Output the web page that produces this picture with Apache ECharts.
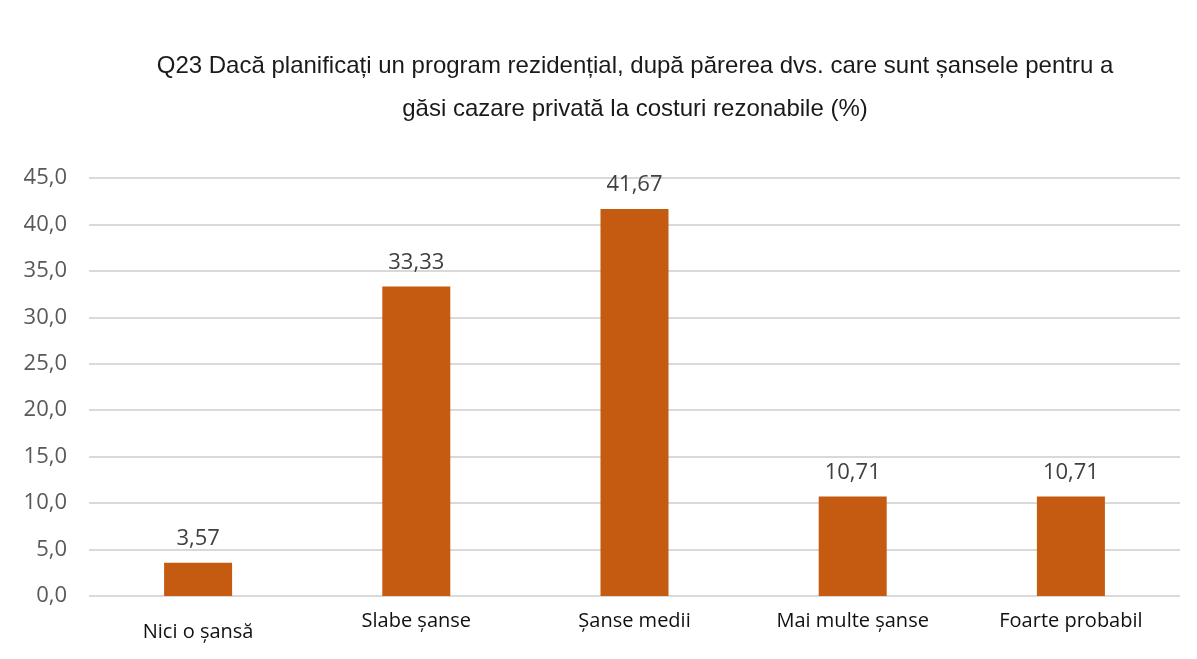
<!DOCTYPE html>
<html lang="ro">
<head>
    <meta charset="utf-8"/>
    <title>Q23</title>
    <style>
        html, body { margin: 0; padding: 0; background: #fff; }
        #chart { width: 1197px; height: 659px; }
    </style>
</head>
<body>
<div id="chart"></div>
<script src="https://cdn.jsdelivr.net/npm/echarts@6/dist/echarts.min.js"></script>
<script type="text/javascript">
    var categories = ['Nici o șansă', 'Slabe șanse', 'Șanse medii', 'Mai multe șanse', 'Foarte probabil'];
    var values = [3.57, 33.33, 41.67, 10.71, 10.71];
    var yTicks = [0, 5, 10, 15, 20, 25, 30, 35, 40, 45];

    var fmt = function (v, d) { return v.toFixed(d).replace('.', ','); };

    var myChart = echarts.init(document.getElementById('chart'));

    var option = {
        backgroundColor: '#ffffff',
        animation: false,
        title: {
            text: 'Q23 Dacă planificați un program rezidențial, după părerea dvs. care sunt șansele pentru a\ngăsi cazare privată la costuri rezonabile (%)',
            left: 630,
            textAlign: 'center',
            top: 40,
            textStyle: {
                fontFamily: 'Liberation Sans, Arial, sans-serif',
                fontSize: 24,
                fontWeight: 'normal',
                color: '#1a1a1a',
                lineHeight: 43
            }
        },
        grid: { left: 89, right: 17, top: 178, bottom: 63 },
        xAxis: {
            type: 'category',
            data: categories,
            axisLine: { show: false },
            axisTick: { show: false },
            axisLabel: {
                interval: 0,
                hideOverlap: false,
                margin: 15,
                fontFamily: 'Open Sans, Lato, sans-serif',
                fontSize: 20,
                color: '#111111',
                formatter: function (v, i) {
                    return i === 0 ? '{low|' + v + '}' : v;
                },
                rich: {
                    low: {
                        fontFamily: 'Open Sans, Lato, sans-serif',
                        fontSize: 20,
                        color: '#111111',
                        padding: [11, 0, 0, 0]
                    }
                }
            }
        },
        yAxis: {
            type: 'value',
            min: yTicks[0],
            max: yTicks[yTicks.length - 1],
            interval: 5,
            axisLine: { show: false },
            axisTick: { show: false },
            splitLine: { lineStyle: { color: '#d9d9d9', width: 2 } },
            axisLabel: {
                margin: 22,
                fontFamily: 'Open Sans, Lato, sans-serif',
                fontSize: 22,
                color: '#595959',
                formatter: function (v) { return fmt(v, 1); }
            }
        },
        series: [{
            type: 'bar',
            data: values,
            barWidth: 68,
            itemStyle: { color: '#c55a11' },
            label: {
                show: true,
                position: 'top',
                distance: 13,
                fontFamily: 'Open Sans, Lato, sans-serif',
                fontSize: 22,
                color: '#404040',
                formatter: function (p) { return fmt(p.value, 2); }
            }
        }]
    };

    myChart.setOption(option, true);
</script>
</body>
</html>
